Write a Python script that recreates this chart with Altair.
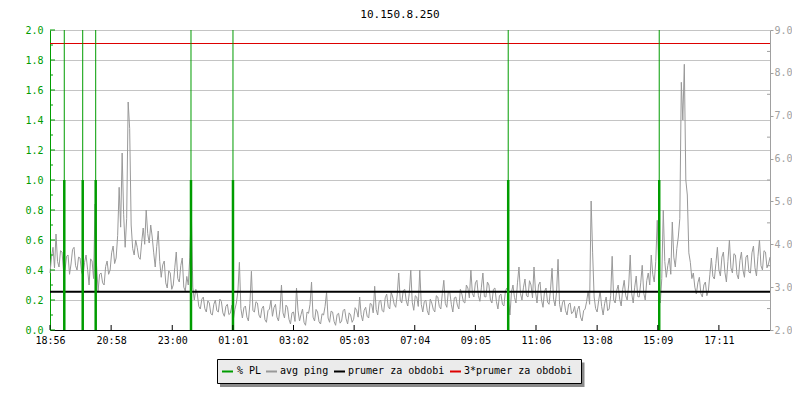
import altair as alt
import pandas as pd

# ---------------- data ----------------
title_text = "10.150.8.250"

# avg ping (ms, right axis), one sample every 3 minutes from 18:56
sample_step_min = 3
ping_ms = [
    3.33, 3.70, 3.93, 3.45, 4.24, 3.60, 3.47, 3.85, 3.82, 3.38, 3.40, 3.72, 3.75, 3.30, 3.54, 3.88, 3.93, 3.50, 3.40, 3.70,
    3.68, 3.35, 3.26, 3.58, 3.75, 3.42, 3.05, 3.66, 3.61, 3.20, 4.94, 3.50, 2.91, 3.30, 3.33, 3.10, 3.05, 3.48, 3.61, 3.30,
    3.40, 3.80, 3.96, 3.55, 3.68, 4.20, 5.33, 4.40, 6.13, 4.70, 3.93, 4.60, 7.32, 6.70, 4.45, 3.90, 3.75, 4.10, 3.93, 3.70,
    3.65, 4.05, 4.38, 4.00, 4.80, 4.25, 4.03, 4.45, 4.17, 3.80, 3.47, 3.95, 4.31, 3.60, 3.23, 3.52, 3.61, 3.10, 2.98, 3.38,
    3.33, 2.95, 3.05, 3.45, 3.82, 3.20, 3.12, 3.50, 3.68, 3.00, 2.91, 3.25, 3.05, 3.70, 4.80, 3.00, 2.70, 2.95, 2.84, 2.55,
    2.49, 2.72, 2.77, 2.50, 2.42, 2.68, 2.63, 2.38, 2.35, 2.60, 2.70, 2.45, 2.42, 2.72, 2.67, 2.40, 2.32, 2.55, 2.60, 2.36,
    2.39, 2.58, 2.25, 2.48, 2.63, 2.90, 3.58, 2.50, 2.28, 2.52, 2.56, 2.30, 2.21, 2.62, 3.37, 2.45, 2.42, 2.66, 2.63, 2.35,
    2.28, 2.50, 2.56, 2.24, 2.18, 2.45, 2.49, 2.70, 2.32, 2.52, 2.60, 2.30, 2.21, 2.48, 3.05, 2.40, 2.28, 2.58, 2.53, 2.25,
    2.14, 2.40, 2.42, 2.20, 2.98, 2.45, 2.21, 2.36, 2.49, 2.18, 2.11, 2.42, 2.39, 2.60, 3.12, 2.30, 2.21, 2.48, 2.42, 2.19,
    2.14, 2.38, 2.35, 2.55, 2.88, 2.28, 2.18, 2.44, 2.42, 2.20, 2.11, 2.36, 2.39, 2.16, 2.21, 2.45, 2.49, 2.26, 2.14, 2.40,
    2.35, 2.18, 2.25, 2.52, 2.46, 2.30, 2.77, 2.36, 2.21, 2.46, 2.53, 2.32, 2.28, 2.62, 2.60, 2.40, 3.02, 2.48, 2.35, 2.66,
    2.70, 2.45, 2.42, 2.75, 2.84, 2.55, 2.49, 2.88, 2.77, 2.60, 2.53, 2.82, 3.33, 2.70, 2.63, 2.92, 2.95, 2.68, 2.56, 2.85,
    3.40, 2.65, 2.46, 2.80, 2.77, 2.55, 3.40, 2.60, 2.42, 2.66, 2.70, 2.45, 2.35, 2.72, 2.63, 2.48, 2.42, 2.80, 2.77, 2.55,
    2.49, 2.85, 3.16, 2.62, 2.53, 2.90, 2.88, 2.60, 2.42, 2.75, 2.77, 2.58, 2.49, 2.95, 2.84, 2.66, 2.63, 3.05, 2.98, 2.75,
    3.40, 2.85, 2.77, 3.10, 3.16, 2.80, 2.67, 3.00, 3.33, 2.78, 2.77, 3.12, 3.05, 2.70, 2.63, 2.95, 2.98, 2.66, 2.49, 2.80,
    2.84, 2.60, 2.56, 2.92, 2.98, 2.70, 2.35, 2.88, 3.05, 2.76, 2.63, 3.10, 3.47, 2.85, 2.70, 3.00, 3.19, 2.80, 2.77, 3.15,
    3.05, 2.75, 3.47, 2.90, 2.63, 3.05, 3.12, 2.70, 2.53, 2.90, 2.98, 2.65, 2.60, 2.95, 3.44, 2.72, 2.56, 2.88, 3.65, 2.60,
    2.42, 2.65, 2.70, 2.45, 2.35, 2.60, 2.63, 2.38, 2.42, 2.55, 2.28, 2.48, 2.56, 2.30, 2.21, 2.45, 2.49, 2.66, 2.91, 2.60,
    5.01, 3.80, 2.77, 2.50, 2.42, 2.68, 2.91, 2.55, 2.35, 2.62, 2.77, 2.45, 2.49, 2.80, 3.72, 2.70, 2.63, 2.92, 3.05, 2.72,
    2.56, 2.95, 3.16, 2.80, 2.70, 3.05, 3.75, 2.85, 2.63, 3.00, 3.26, 2.78, 2.77, 3.10, 3.51, 2.86, 2.70, 3.15, 3.33, 3.05,
    3.75, 3.30, 3.12, 3.60, 4.56, 3.45, 2.63, 3.20, 4.80, 3.60, 3.23, 3.50, 3.68, 3.30, 4.52, 3.70, 3.47, 3.90, 4.17, 4.60,
    7.78, 6.90, 8.20, 5.50, 5.15, 3.80, 3.58, 3.20, 3.33, 3.00, 2.84, 3.10, 3.23, 2.85, 2.77, 3.05, 3.12, 2.80, 2.91, 3.30,
    3.68, 3.25, 3.19, 3.55, 3.93, 3.40, 3.26, 3.70, 3.82, 3.35, 3.12, 3.60, 4.10, 3.45, 3.33, 3.78, 3.75, 3.30, 3.19, 3.62,
    3.82, 3.40, 3.23, 3.70, 3.75, 3.35, 3.33, 3.80, 3.96, 3.45, 3.26, 3.72, 4.10, 3.50, 3.40, 3.85, 3.82, 3.45, 3.54, 3.70,
]

# packet loss events (minutes after 18:56, % PL on left axis)
pl_minutes = [28.5, 65.3, 91.2, 281.4, 365.2, 914.5, 1215.9]
pl_values = [1.0, 1.0, 1.0, 1.0, 1.0, 1.0, 1.0]

mean_ping = [2.895]       # prumer za obdobi
mean3_ping = [8.685]      # 3*prumer za obdobi

x_domain_min = [0, 1437]
tick_minutes = [0, 122, 244, 365, 486, 607, 728, 849, 970, 1092, 1213, 1335]
tick_labels = ["18:56", "20:58", "23:00", "01:01", "03:02", "05:03",
               "07:04", "09:05", "11:06", "13:08", "15:09", "17:11"]

left_major = [0.0, 0.2, 0.4, 0.6, 0.8, 1.0, 1.2, 1.4, 1.6, 1.8, 2.0]
left_minor = [0.1, 0.3, 0.5, 0.7, 0.9, 1.1, 1.3, 1.5, 1.7, 1.9]
right_major = [2.0, 3.0, 4.0, 5.0, 6.0, 7.0, 8.0, 9.0]
right_minor = [2.5, 3.5, 4.5, 5.5, 6.5, 7.5, 8.5]

legend_labels = ["% PL", "avg ping", "prumer za obdobi", "3*prumer za obdobi"]

# ---------------- styles ----------------
GREEN = "#009c00"
PING_GRAY = "#999999"
AXIS_GRAY = "#a0a0a0"
RED = "#dd0000"
GRID = "#c4c4c4"
FONT = "DejaVu Sans Mono"
legend_colors = [GREEN, PING_GRAY, "#000000", RED]
legend_swatch_x = [172, 216, 284, 400]
legend_text_x = [187, 230, 298, 414]

label_expr = "[" + ",".join(f"'{s}'" for s in tick_labels) + "][indexof([" + \
    ",".join(str(v) for v in tick_minutes) + "], datum.value)]"

x_scale = alt.Scale(domain=x_domain_min, nice=False, zero=False)
x_axis = alt.Axis(values=tick_minutes, labelExpr=label_expr, ticks=False,
                  domainColor="black", domainWidth=1, labelColor="black",
                  labelFont=FONT, labelFontSize=10, labelFlush=False,
                  labelOverlap=False, labelPadding=5, grid=False, title=None)

left_scale = alt.Scale(domain=[0, 2], nice=False, zero=True)
left_axis = alt.Axis(orient="left", values=left_major, format=".1f", grid=True,
                     gridColor=GRID, gridWidth=1, ticks=False, domainColor=GREEN,
                     labelColor=GREEN, labelFont=FONT, labelFontSize=10,
                     labelPadding=7, labelFlush=False, labelOverlap=False, title=None)

right_scale = alt.Scale(domain=[2, 9], nice=False, zero=False)
right_axis = alt.Axis(orient="right", values=right_major, format=".1f", grid=False,
                      ticks=True, tickSize=3, tickColor=AXIS_GRAY, domainColor=AXIS_GRAY,
                      labelColor=AXIS_GRAY, labelFont=FONT, labelFontSize=10,
                      labelPadding=1, labelFlush=False, labelOverlap=False, title=None)

one = alt.Data(values=[{"a": 1}])

# ---------------- right-scale group (ping) ----------------
ping_df = pd.DataFrame({"t": [i * sample_step_min for i in range(len(ping_ms))],
                        "ms": ping_ms})
ping_line = alt.Chart(ping_df).mark_line(color=PING_GRAY, strokeWidth=1).encode(
    x=alt.X("t:Q", scale=x_scale, axis=x_axis),
    y=alt.Y("ms:Q", scale=right_scale, axis=right_axis),
)
mean_rule = alt.Chart(pd.DataFrame({"ms": mean_ping})).mark_rule(
    color="black", strokeWidth=2).encode(
    y=alt.Y("ms:Q", scale=right_scale, axis=right_axis))
mean3_rule = alt.Chart(pd.DataFrame({"ms": mean3_ping})).mark_rule(
    color=RED, strokeWidth=1).encode(
    y=alt.Y("ms:Q", scale=right_scale, axis=right_axis))
right_minor_rule = alt.Chart(pd.DataFrame({"ms": right_minor})).mark_rule(
    color=AXIS_GRAY, strokeWidth=1).encode(
    y=alt.Y("ms:Q", scale=right_scale, axis=right_axis),
    x=alt.value(717), x2=alt.value(720))
right_group = alt.layer(right_minor_rule, ping_line, mean_rule, mean3_rule)

# ---------------- left-scale group (% PL) ----------------
pl_df = pd.DataFrame({"t": pl_minutes, "pl": pl_values})
left_major_rule = alt.Chart(pd.DataFrame({"pl": left_major})).mark_rule(
    color=GREEN, strokeWidth=1).encode(
    y=alt.Y("pl:Q", scale=left_scale, axis=left_axis),
    x=alt.value(0), x2=alt.value(5))
left_minor_rule = alt.Chart(pd.DataFrame({"pl": left_minor})).mark_rule(
    color=GREEN, strokeWidth=1).encode(
    y=alt.Y("pl:Q", scale=left_scale, axis=left_axis),
    x=alt.value(0), x2=alt.value(3))
pl_thin = alt.Chart(pl_df).mark_rule(color=GREEN, strokeWidth=1).encode(
    x=alt.X("t:Q", scale=x_scale, axis=x_axis),
    y=alt.value(0), y2=alt.value(300))
pl_thick = alt.Chart(pl_df).mark_rule(color=GREEN, strokeWidth=2.5).encode(
    x=alt.X("t:Q", scale=x_scale, axis=x_axis),
    y=alt.Y("pl:Q", scale=left_scale, axis=left_axis),
    y2=alt.datum(0))
left_group = alt.layer(left_major_rule, left_minor_rule, pl_thin, pl_thick)

# ---------------- decorations ----------------
x_ticks = alt.Chart(pd.DataFrame({"t": tick_minutes})).mark_rule(
    color="black", strokeWidth=1).encode(
    x=alt.X("t:Q", scale=x_scale, axis=x_axis),
    y=alt.value(295), y2=alt.value(300))

title_mark = alt.Chart(one).mark_text(
    text=title_text, font=FONT, fontSize=11, color="black",
    align="center", baseline="alphabetic").encode(x=alt.value(350), y=alt.value(-12))

shadow = alt.Chart(one).mark_rect(color="#8a8a8a").encode(
    x=alt.value(170), x2=alt.value(534.5), y=alt.value(332.5), y2=alt.value(357))
box = alt.Chart(one).mark_rect(fill="#ebebeb", stroke="black", strokeWidth=1).encode(
    x=alt.value(167.5), x2=alt.value(531.5), y=alt.value(329.5), y2=alt.value(353.5))

legend_layers = [shadow, box]
for lab, col, sx, tx in zip(legend_labels, legend_colors, legend_swatch_x, legend_text_x):
    legend_layers.append(
        alt.Chart(one).mark_rule(color=col, strokeWidth=2).encode(
            x=alt.value(sx), x2=alt.value(sx + 11), y=alt.value(341.5)))
    legend_layers.append(
        alt.Chart(one).mark_text(text=lab, font=FONT, fontSize=10, color="black",
                                 align="left", baseline="middle").encode(
            x=alt.value(tx), y=alt.value(341)))

chart = alt.layer(
    right_group, left_group, x_ticks, title_mark, *legend_layers
).resolve_scale(y="independent").properties(
    width=720, height=300,
    autosize=alt.AutoSizeParams(type="none"),
    padding={"left": 42, "top": 22, "right": 22, "bottom": 62},
    background="white",
).configure_view(stroke=None)

chart.save("out.html", embed_options={"renderer": "svg", "actions": False})
